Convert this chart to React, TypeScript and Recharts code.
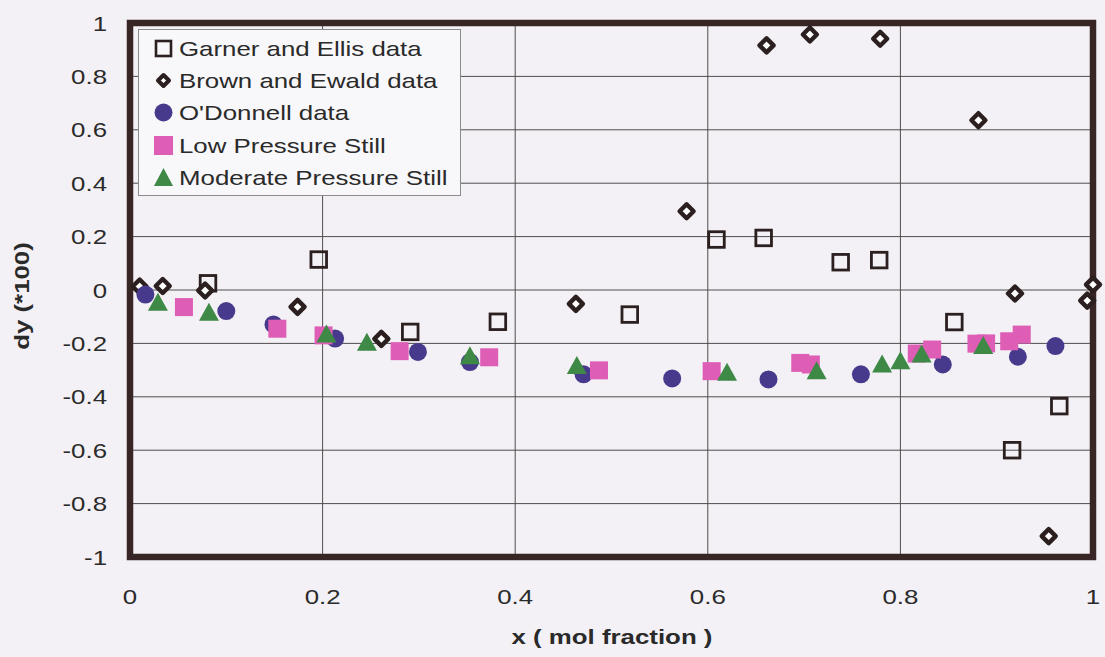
import { ScatterChart, Scatter, XAxis, YAxis, CartesianGrid, ReferenceArea, Legend } from 'recharts';

// values: [x, dy*100]
const garnerEllis: [number, number][] = [
  [0.081, 0.025], [0.196, 0.114], [0.291, -0.157], [0.382, -0.119], [0.519, -0.092],
  [0.609, 0.189], [0.658, 0.195], [0.738, 0.104], [0.778, 0.112], [0.856, -0.12],
  [0.916, -0.6], [0.965, -0.435],
];
const brownEwald: [number, number][] = [
  [0.01, 0.013], [0.034, 0.015], [0.078, -0.002], [0.174, -0.063], [0.261, -0.183],
  [0.463, -0.052], [0.578, 0.295], [0.661, 0.916], [0.706, 0.957], [0.779, 0.941],
  [0.881, 0.636], [0.919, -0.013], [0.954, -0.922], [0.994, -0.04], [1.0, 0.02],
];
const oDonnell: [number, number][] = [
  [0.016, -0.017], [0.1, -0.079], [0.149, -0.129], [0.213, -0.182], [0.299, -0.232],
  [0.353, -0.27], [0.471, -0.316], [0.563, -0.331], [0.663, -0.335], [0.759, -0.316],
  [0.844, -0.279], [0.922, -0.25], [0.961, -0.21],
];
const lowPressure: [number, number][] = [
  [0.056, -0.064], [0.153, -0.145], [0.201, -0.17], [0.28, -0.229], [0.373, -0.252],
  [0.487, -0.301], [0.604, -0.304], [0.696, -0.273], [0.707, -0.279], [0.817, -0.238],
  [0.833, -0.223], [0.879, -0.201], [0.889, -0.2], [0.913, -0.192], [0.926, -0.167],
];
const moderatePressure: [number, number][] = [
  [0.029, -0.048], [0.082, -0.085], [0.204, -0.167], [0.246, -0.198], [0.353, -0.248],
  [0.464, -0.285], [0.62, -0.31], [0.713, -0.304], [0.781, -0.279], [0.8, -0.267],
  [0.822, -0.242], [0.886, -0.21],
];

const xTicks = [0, 0.2, 0.4, 0.6, 0.8, 1];
const yTicks = [-1, -0.8, -0.6, -0.4, -0.2, 0, 0.2, 0.4, 0.6, 0.8, 1];

const seriesNames = [
  'Garner and Ellis data',
  'Brown and Ewald data',
  "O'Donnell data",
  'Low Pressure Still',
  'Moderate Pressure Still',
];

const toPoints = (arr: [number, number][]) => arr.map(([x, y]) => ({ x, y }));

const INK = '#2b1f1f';
const PURPLE = '#473a8c';
const PINK = '#de5eb6';
const GREEN = '#3d8945';
const BG = '#f3f1f6';
const TEXT = '#2a2a2a';
const FONT = '"Liberation Sans", Arial, sans-serif';
const STRETCH = 1.23;

const OpenSquare = ({ cx, cy }: any) => (
  <rect x={cx - 7.8} y={cy - 7.8} width={15.6} height={15.6} fill="none" stroke={INK} strokeWidth={2.8} />
);
const Diamond = ({ cx, cy }: any) => (
  <polygon
    points={`${cx},${cy - 7} ${cx + 7},${cy} ${cx},${cy + 7} ${cx - 7},${cy}`}
    fill="#fff"
    stroke={INK}
    strokeWidth={4.4}
    strokeLinejoin="round"
  />
);
const Dot = ({ cx, cy }: any) => <circle cx={cx} cy={cy} r={9} fill={PURPLE} />;
const PinkSquare = ({ cx, cy }: any) => <rect x={cx - 9} y={cy - 9} width={18} height={18} fill={PINK} />;
const Triangle = ({ cx, cy }: any) => (
  <polygon points={`${cx},${cy - 10} ${cx + 10},${cy + 8} ${cx - 10},${cy + 8}`} fill={GREEN} />
);

const YTick = ({ x, y, payload }: any) => (
  <g transform={`translate(${x - 23},${y}) scale(${STRETCH},1)`}>
    <text textAnchor="end" dy="0.36em" fontFamily={FONT} fontSize={21} fill={TEXT}>
      {payload.value}
    </text>
  </g>
);
const XTick = ({ x, payload }: any) => (
  <g transform={`translate(${x},596) scale(${STRETCH},1)`}>
    <text textAnchor="middle" dy="0.36em" fontFamily={FONT} fontSize={21} fill={TEXT}>
      {payload.value}
    </text>
  </g>
);

const legendIcons = [
  <rect x={2} y={2} width={15} height={15} fill="none" stroke={INK} strokeWidth={2.6} />,
  <polygon points="9.5,4 15,9.5 9.5,15 4,9.5" fill="#fff" stroke={INK} strokeWidth={4} strokeLinejoin="round" />,
  <circle cx={9.5} cy={9.5} r={9} fill={PURPLE} />,
  <rect x={0} y={0} width={19} height={19} fill={PINK} />,
  <polygon points="9.5,0 19,18 0,18" fill={GREEN} />,
];

const LegendBox = () => (
  <div
    style={{
      position: 'relative',
      width: 323,
      height: 167,
      boxSizing: 'border-box',
      border: '1px solid #8d8a8f',
      background: '#f8f7f9',
      fontFamily: FONT,
    }}
  >
    {seriesNames.map((name, i) => (
      <div key={name} style={{ position: 'absolute', left: 0, top: 3 + i * 32.2, height: 32, width: 322 }}>
        <svg width={19} height={19} style={{ position: 'absolute', left: 15, top: 6 }}>
          {legendIcons[i]}
        </svg>
        <span
          style={{
            position: 'absolute',
            left: 40,
            top: 4,
            fontSize: 21,
            lineHeight: '24px',
            color: TEXT,
            whiteSpace: 'nowrap',
            transform: `scaleX(${STRETCH})`,
            transformOrigin: 'left center',
          }}
        >
          {name}
        </span>
      </div>
    ))}
  </div>
);

export default function App() {
  return (
    <div style={{ position: 'absolute', left: 0, top: 0, width: 1105, height: 657, background: BG }}>
      <ScatterChart width={1105} height={657} margin={{ top: 23, right: 12, bottom: 0, left: 0 }}>
        <CartesianGrid stroke="#4e4e4e" strokeWidth={1} />
        <XAxis
          type="number"
          dataKey="x"
          domain={[0, 1]}
          ticks={xTicks}
          height={100}
          axisLine={false}
          tickLine={false}
          tickSize={0}
          tick={<XTick />}
          interval={0}
        />
        <YAxis
          type="number"
          dataKey="y"
          domain={[-1, 1]}
          ticks={yTicks}
          width={130}
          axisLine={false}
          tickLine={false}
          tickSize={0}
          tickMargin={0}
          tick={<YTick />}
          interval={0}
        />
        <ReferenceArea x1={0} x2={1} y1={-1} y2={1} fill="none" stroke="#382626" strokeWidth={6.5} ifOverflow="visible" />
        <Legend
          layout="vertical"
          align="center"
          verticalAlign="middle"
          content={() => <LegendBox />}
          wrapperStyle={{ left: 138, top: 29, width: 323, height: 167 }}
        />
        <Scatter name={seriesNames[0]} data={toPoints(garnerEllis)} shape={<OpenSquare />} isAnimationActive={false} />
        <Scatter name={seriesNames[1]} data={toPoints(brownEwald)} shape={<Diamond />} isAnimationActive={false} />
        <Scatter name={seriesNames[2]} data={toPoints(oDonnell)} shape={<Dot />} isAnimationActive={false} />
        <Scatter name={seriesNames[3]} data={toPoints(lowPressure)} shape={<PinkSquare />} isAnimationActive={false} />
        <Scatter name={seriesNames[4]} data={toPoints(moderatePressure)} shape={<Triangle />} isAnimationActive={false} />
      </ScatterChart>
      <div
        style={{
          position: 'absolute',
          left: 612,
          top: 637,
          transform: `translate(-50%,-50%) scaleX(${STRETCH})`,
          fontFamily: FONT,
          fontWeight: 'bold',
          fontSize: 21,
          color: TEXT,
          whiteSpace: 'nowrap',
        }}
      >
        x ( mol fraction )
      </div>
      <div
        style={{
          position: 'absolute',
          left: 22,
          top: 296,
          transform: `translate(-50%,-50%) rotate(-90deg) scaleX(${STRETCH})`,
          fontFamily: FONT,
          fontWeight: 'bold',
          fontSize: 21,
          color: TEXT,
          whiteSpace: 'nowrap',
        }}
      >
        dy (*100)
      </div>
    </div>
  );
}
